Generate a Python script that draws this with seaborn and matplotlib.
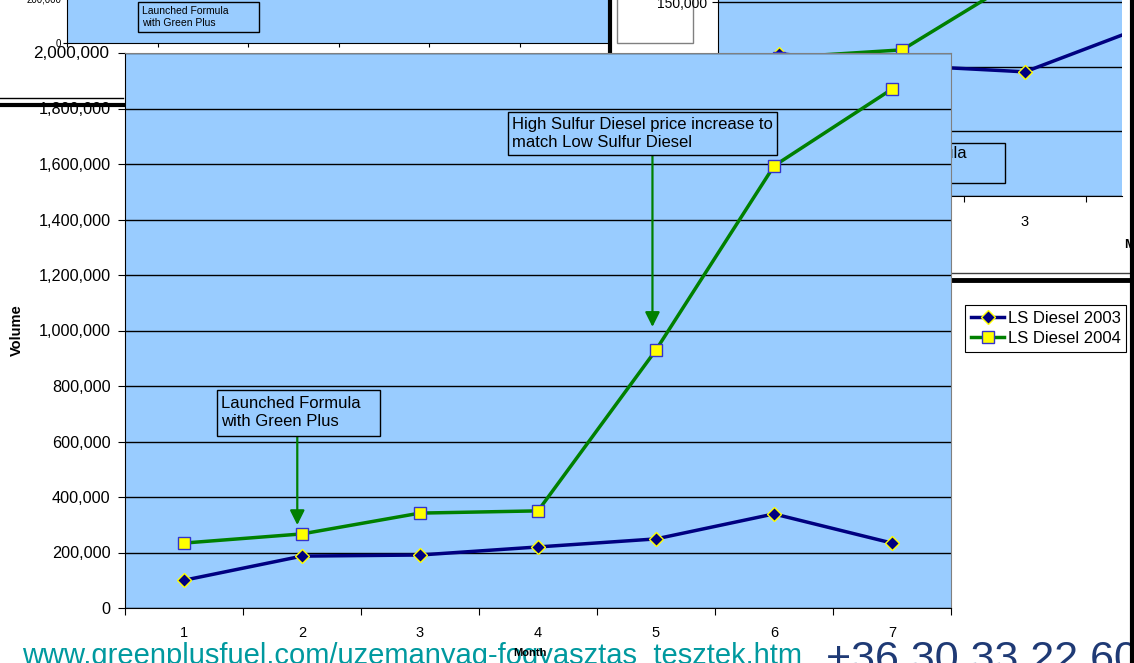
import matplotlib
matplotlib.use('Agg')
import matplotlib.pyplot as plt
from matplotlib.lines import Line2D
from matplotlib.patches import Rectangle
import seaborn as sns

plt.rcParams['font.family'] = ['Liberation Sans', 'DejaVu Sans']

W, H = 1134, 663

#%% data - main chart
months = [1, 2, 3, 4, 5, 6, 7]
ls_2003 = [100000, 187000, 191000, 220000, 249000, 339000, 234000]
ls_2004 = [234000, 267000, 342000, 350000, 930000, 1593000, 1870000]
y_ticks = [0, 200000, 400000, 600000, 800000, 1000000, 1200000, 1400000,
           1600000, 1800000, 2000000]
y_labels = ['0', '200,000', '400,000', '600,000', '800,000', '1,000,000',
            '1,200,000', '1,400,000', '1,600,000', '1,800,000', '']
series_names = ['LS Diesel 2003', 'LS Diesel 2004']
note_launch = 'Launched Formula\nwith Green Plus'
note_price = 'High Sulfur Diesel price increase to\nmatch Low Sulfur Diesel'

#%% data - charts behind (only partly visible)
right_months_2003 = [1, 2, 3, 4]
right_2003 = [110000, 101000, 96000, 132000]
right_months_2004 = [1, 2, 3]
right_2004 = [107000, 113000, 171000]
right_y_ticks = [0, 50000, 100000, 150000]
right_y_labels = ['0', '50,000', '100,000', '150,000']

footer_url = 'www.greenplusfuel.com/uzemanyag-fogyasztas_tesztek.htm'
footer_phone = '+36 30 33 22 60'

NAVY = '#000080'
GREEN = '#008000'
BLUE_BG = '#99CCFF'


def fx(x):
    return x / W


def fy(y):
    return 1 - y / H


def note_box(x0, y0, x1, y1, text, size, z, lw=1.0):
    # text box drawn in screen pixels, like the excel text boxes
    fig.add_artist(Rectangle((fx(x0), fy(y1)), (x1 - x0) / W, (y1 - y0) / H,
                             transform=fig.transFigure, fc=BLUE_BG, ec='black',
                             lw=lw, zorder=z))
    fig.text(fx(x0 + 4), fy((y0 + y1) / 2), text, fontsize=size, ha='left',
             va='center', linespacing=1.25, zorder=z + 0.01)


fig = plt.figure(figsize=(W / 100, H / 100), dpi=100, facecolor='white')

#%% top-left chart (behind)
ax_tl = fig.add_axes([fx(67), fy(43), 543 / W, 45 / H], facecolor=BLUE_BG, zorder=1)
ax_tl.set_xlim(0.5, 6.5)
ax_tl.set_ylim(0, 200000)
ax_tl.set_xticks([0.5, 1.5, 2.5, 3.5, 4.5, 5.5, 6.5], [''] * 7)
ax_tl.set_yticks([0, 200000], ['0', '200,000'], fontsize=7)
ax_tl.tick_params(length=3, width=0.8, pad=1)
for s in ['top', 'right']:
    ax_tl.spines[s].set_color('gray')
note_box(138, 2, 259, 32, note_launch, 7.5, 1.2)
fig.add_artist(Rectangle((fx(617), fy(43)), 76 / W, 50 / H, transform=fig.transFigure,
                         fc='white', ec='gray', lw=1, zorder=1.5))

#%% top-right chart (behind)
ax_tr = fig.add_axes([fx(718), fy(196), 404 / W, 209 / H], facecolor=BLUE_BG, zorder=2)
sns.lineplot(x=right_months_2003, y=right_2003, ax=ax_tr, color=NAVY, lw=2.5,
             marker='D', ms=7, mfc=NAVY, mec='yellow', mew=1)
sns.lineplot(x=right_months_2004, y=right_2004, ax=ax_tr, color=GREEN, lw=2.5,
             marker='s', ms=8.5, mfc='yellow', mec='#3333CC', mew=1)
ax_tr.set_xlim(0.5, 3.79)
ax_tr.set_ylim(0, 161600)
ax_tr.set_xticks([0.5, 1.5, 2.5, 3.5], [''] * 4)
ax_tr.set_xticks([1, 2, 3], ['1', '2', '3'], minor=True, fontsize=10.5)
ax_tr.tick_params(axis='x', which='minor', length=0, pad=14)
ax_tr.set_yticks(right_y_ticks, right_y_labels, fontsize=10)
ax_tr.tick_params(length=4, width=0.8)
ax_tr.grid(axis='y', color='black', lw=1)
ax_tr.set_axisbelow(True)
for s in ['top', 'right']:
    ax_tr.spines[s].set_visible(False)
note_box(823, 143, 1005, 183, note_launch, 12, 2.2)
fig.text(fx(1124), fy(245), 'Month', fontsize=9, fontweight='bold', va='center', ha='left')

#%% main chart
ax = fig.add_axes([fx(125), fy(608), 826 / W, 555 / H], facecolor=BLUE_BG, zorder=3)
sns.lineplot(x=months, y=ls_2003, ax=ax, color=NAVY, lw=2.5, marker='D', ms=7,
             mfc=NAVY, mec='yellow', mew=1)
sns.lineplot(x=months, y=ls_2004, ax=ax, color=GREEN, lw=2.5, marker='s', ms=8.5,
             mfc='yellow', mec='#3333CC', mew=1)
ax.set_xlim(0.5, 7.5)
ax.set_ylim(0, 2000000)
ax.set_xticks([i + 0.5 for i in range(8)], [''] * 8)
ax.set_xticks(months, [str(m) for m in months], minor=True, fontsize=10.5)
ax.tick_params(axis='x', which='minor', length=0, pad=13)
ax.set_yticks(y_ticks, y_labels, fontsize=11.7)
ax.tick_params(length=5, width=0.8)
ax.tick_params(axis='y', pad=5.5)
ax.grid(axis='y', color='black', lw=1)
ax.set_axisbelow(True)
for s in ['top', 'right']:
    ax.spines[s].set_color('#808080')
ax.text(-0.019, 2000000, '2,000,000', transform=ax.get_yaxis_transform(),
        fontsize=12.3, ha='right', va='center')
ax.set_ylabel('Volume', fontsize=10.5, fontweight='bold')
ax.yaxis.set_label_coords(-(125 - 24) / 826, 0.5)
ax.set_xlabel('Month', fontsize=8, fontweight='bold')
ax.xaxis.set_label_coords((530 - 125) / 826, -(648 - 608) / 555)

note_box(217, 390, 380, 436, note_launch, 12, 3.5)
note_box(508, 112, 777, 155, note_price, 12, 3.5)
arrow = dict(arrowstyle='-|>', color=GREEN, lw=1.6, mutation_scale=22,
             shrinkA=0, shrinkB=0)
ax.annotate('', xy=(1.96, 299000), xytext=(1.96, 620000), arrowprops=arrow)
ax.annotate('', xy=(4.97, 1013000), xytext=(4.97, 1632000), arrowprops=arrow)

handles = [
    Line2D([], [], color=NAVY, lw=2.5, marker='D', ms=7, mfc=NAVY, mec='yellow'),
    Line2D([], [], color=GREEN, lw=2.5, marker='s', ms=8.5, mfc='yellow', mec='#3333CC'),
]
leg = fig.legend(handles, series_names, loc='upper left',
                 bbox_to_anchor=(fx(965), fy(305)), fontsize=12, frameon=True,
                 fancybox=False, edgecolor='black', framealpha=1, handlelength=2.0,
                 handletextpad=0.2, borderpad=0.35, labelspacing=0.3,
                 borderaxespad=0)
leg.get_frame().set_linewidth(0.8)
leg.set_zorder(5)

#%% frames and leftovers from the screenshot collage
fig.add_artist(Line2D([fx(0), fx(123)], [fy(98), fy(98)], color='black', lw=1))
fig.add_artist(Line2D([fx(0), fx(123)], [fy(104.5), fy(104.5)], color='black', lw=3))
fig.add_artist(Line2D([fx(610), fx(610)], [fy(0), fy(54)], color='black', lw=3, zorder=2.5))
fig.add_artist(Line2D([fx(952), fx(1132)], [fy(273), fy(273)], color='#404040', lw=1))
fig.add_artist(Line2D([fx(952), fx(1132)], [fy(280), fy(280)], color='black', lw=3.5))
fig.add_artist(Line2D([fx(1132), fx(1132)], [fy(0), fy(663)], color='black', lw=3, zorder=6))

fig.text(fx(22), fy(664), footer_url, fontsize=21, color='#00999F', va='baseline',
         ha='left', zorder=-1)
fig.text(fx(826), fy(671), footer_phone, fontsize=31, color='#1F3A75', va='baseline',
         ha='left', zorder=-1)

fig.savefig('out.png', dpi=100, facecolor='white')
